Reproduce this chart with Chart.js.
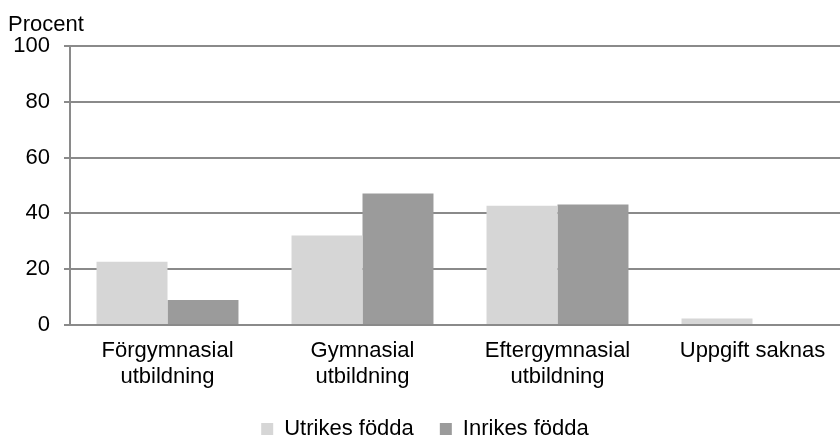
<!DOCTYPE html>
<html>
<head>
<meta charset="utf-8">
<script src="https://cdn.jsdelivr.net/npm/chart.js@4/dist/chart.umd.min.js"></script>
<style>
  html, body { margin: 0; padding: 0; background: #fff; overflow: hidden; }
  #wrap { width: 852px; height: 450px; position: relative; }
</style>
</head>
<body>
<div id="wrap"><canvas id="barChart"></canvas></div>
<script>
// categories (two-line labels)
var categories = [
  ["Förgymnasial", "utbildning"],
  ["Gymnasial", "utbildning"],
  ["Eftergymnasial", "utbildning"],
  ["Uppgift saknas"]
];
var utrikes = [22.7, 32.1, 42.7, 2.3];
var inrikes = [9.0, 47.1, 43.2, 0];
var yTicks = [0, 20, 40, 60, 80, 100];

var gridColor = '#8a8a8a';
var fontName = "'Liberation Sans', Arial, sans-serif";

// draws the "Procent" label above the y axis
var procentLabel = {
  id: 'procentLabel',
  afterDraw: function(chart) {
    var c = chart.ctx;
    c.save();
    c.font = '22px ' + fontName;
    c.fillStyle = '#000';
    c.textBaseline = 'alphabetic';
    c.fillText('Procent', 8, 31);
    c.restore();
  }
};

var ctx = document.getElementById("barChart");
var barChart = new Chart(ctx, {
  type: 'bar',
  data: {
    labels: categories,
    datasets: [{
      label: 'Utrikes födda',
      data: utrikes,
      backgroundColor: '#d6d6d6',
      borderWidth: 0
    }, {
      label: 'Inrikes födda',
      data: inrikes,
      backgroundColor: '#9b9b9b',
      borderWidth: 0
    }]
  },
  options: {
    responsive: true,
    maintainAspectRatio: false,
    animation: false,
    layout: { padding: { top: 46, right: 2, left: 0, bottom: 0 } },
    datasets: {
      bar: { categoryPercentage: 0.728, barPercentage: 1.0 }
    },
    plugins: {
      tooltip: { enabled: false },
      legend: {
        display: true,
        position: 'bottom',
        labels: {
          boxWidth: 12,
          boxHeight: 12,
          padding: 26,
          color: '#000',
          font: { family: fontName, size: 22 }
        }
      }
    },
    scales: {
      x: {
        grid: { display: false },
        border: { display: true, color: gridColor, width: 2 },
        ticks: {
          color: '#000',
          padding: 5,
          maxRotation: 0,
          autoSkip: false,
          font: { family: fontName, size: 22, lineHeight: 1.18 }
        },
        afterFit: function(scale) { scale.height = 67; }
      },
      y: {
        min: 0,
        max: 100,
        afterBuildTicks: function(scale) {
          scale.ticks = yTicks.map(function(v) { return { value: v }; });
        },
        grid: {
          color: gridColor,
          lineWidth: 2,
          tickLength: 6,
          drawTicks: true
        },
        border: { display: true, color: gridColor, width: 2 },
        ticks: {
          color: '#000',
          padding: 14,
          font: { family: fontName, size: 22 }
        },
        afterFit: function(scale) { scale.width = 70; }
      }
    }
  },
  plugins: [procentLabel]
});
</script>
</body>
</html>
